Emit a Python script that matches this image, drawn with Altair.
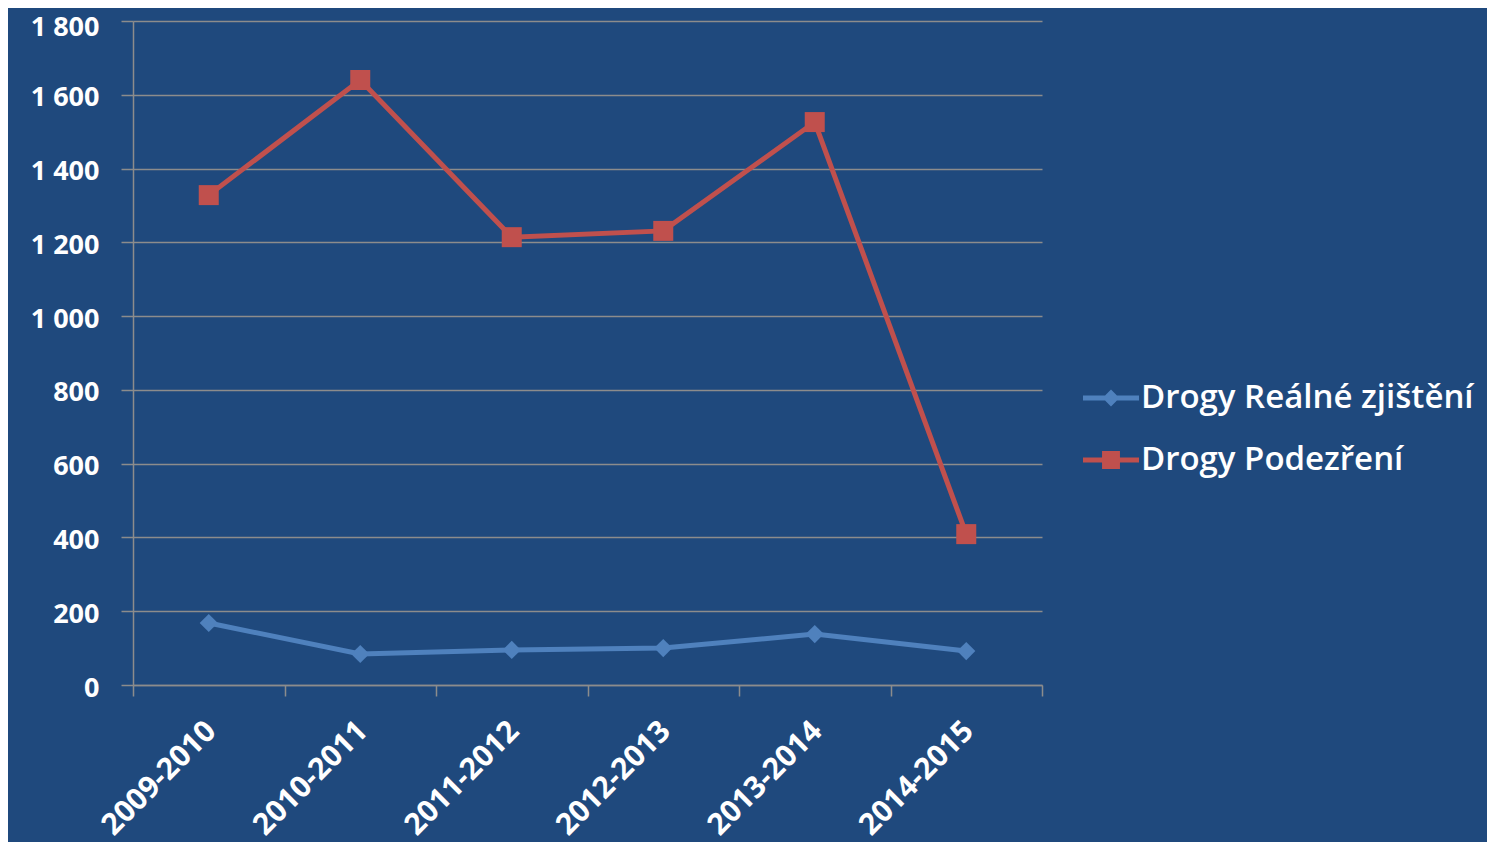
import altair as alt
import pandas as pd

periods = ["2009-2010", "2010-2011", "2011-2012", "2012-2013", "2013-2014", "2014-2015"]
series_names = ["Drogy Reálné zjištění", "Drogy Podezření"]
real_values = [168, 84, 95, 100, 138, 92]
suspicion_values = [1328, 1640, 1214, 1231, 1526, 409]
y_ticks = [0, 200, 400, 600, 800, 1000, 1200, 1400, 1600, 1800]
colors = ["#4F81BD", "#C0504D"]
bg = "#1F497D"
grid = "#8C8C8C"

rows = []
for p, v in zip(periods, real_values):
    rows.append({"period": p, "series": series_names[0], "value": v})
for p, v in zip(periods, suspicion_values):
    rows.append({"period": p, "series": series_names[1], "value": v})
df = pd.DataFrame(rows)

legend = alt.Legend(
    title=None, orient="none", legendX=950, legendY=349,
    labelFont="Open Sans", labelFontSize=33, labelColor="white", labelFontWeight=600,
    symbolSize=3136, symbolStrokeWidth=0, labelOffset=2, rowPadding=17,
    labelLimit=600,
)

color = alt.Color("series:N", scale=alt.Scale(domain=series_names, range=colors), legend=legend)

x = alt.X(
    "period:N", sort=periods,
    scale=alt.Scale(type="band", paddingInner=0, paddingOuter=0),
    axis=alt.Axis(
        title=None, tickBand="extent", tickSize=11, tickColor=grid, tickWidth=1.5,
        domainColor=grid, domainWidth=1.5, grid=False,
        labelAngle=-45, labelAlign="right", labelBaseline="middle",
        labelFont="Open Sans", labelFontSize=30, labelFontWeight="bold", labelColor="white",
        labelPadding=30, labelOffset=2,
    ),
)
y = alt.Y(
    "value:Q",
    scale=alt.Scale(domain=[0, 1800], nice=False, zero=True),
    axis=alt.Axis(
        title=None, values=y_ticks,
        labelExpr="replace(format(datum.value, ','), ',', ' ')",
        grid=True, gridColor=grid, gridWidth=1.5,
        domainColor=grid, domainWidth=1.5, tickColor=grid, tickWidth=1.5, tickSize=12,
        labelFont="Open Sans", labelFontSize=27, labelFontWeight="bold", labelColor="white",
        labelPadding=22,
        labelOffset={"condition": {"test": "datum.value == 1800", "value": 6}, "value": 3},
    ),
)

base = alt.Chart(df)
lines = base.mark_line(strokeWidth=5).encode(x=x, y=y, color=color, detail="series:N")
diamonds = base.transform_filter(alt.datum.series == series_names[0]).mark_point(
    shape="diamond", filled=True, size=330, opacity=1
).encode(x=x, y=y, color=color)
squares = base.transform_filter(alt.datum.series == series_names[1]).mark_point(
    shape="square", filled=True, size=400, opacity=1
).encode(x=x, y=y, color=color)

legend_shapes = [
    "M-1,-0.085L1,-0.085L1,0.085L-1,0.085Z M0,-0.3L0.3,0L0,0.3L-0.3,0Z",
    "M-1,-0.085L1,-0.085L1,0.085L-1,0.085Z M-0.32,-0.32L0.32,-0.32L0.32,0.32L-0.32,0.32Z",
]
legend_layer = base.transform_filter("false").mark_point(filled=True, opacity=1, size=3136).encode(
    x=x, y=y, color=color,
    shape=alt.Shape("series:N", scale=alt.Scale(domain=series_names, range=legend_shapes), legend=legend),
)

chart = alt.layer(lines, diamonds, squares, legend_layer).properties(
    width=909, height=664,
    autosize=alt.AutoSizeParams(type="none"),
    padding={"left": 125, "top": 13, "right": 445, "bottom": 157},
).configure(background=bg).configure_view(stroke=None)

chart.save("out.html", embed_options={"renderer": "svg", "actions": False})
